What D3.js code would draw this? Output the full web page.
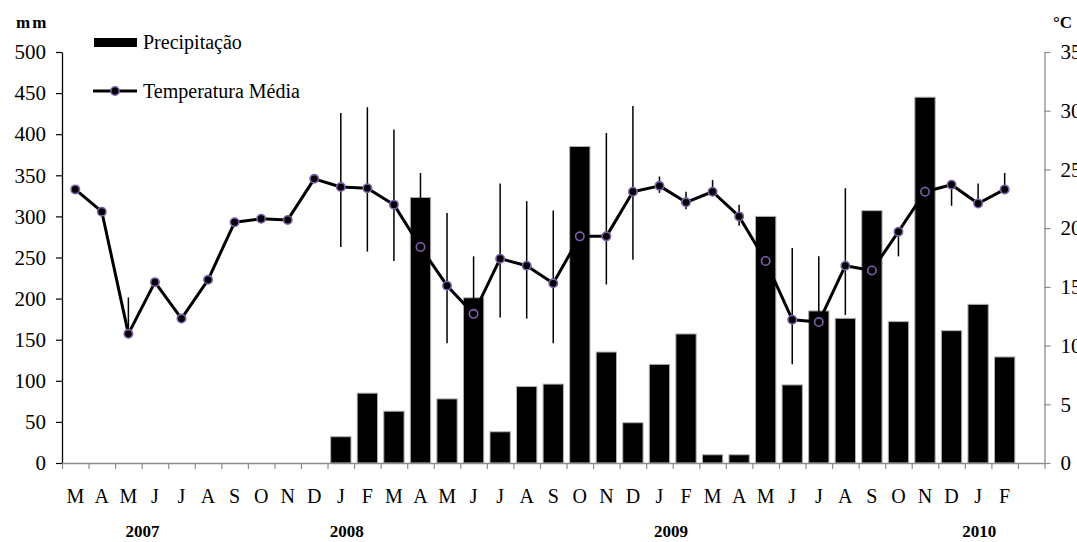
<!DOCTYPE html>
<html>
<head>
<meta charset="utf-8">
<script src="https://cdn.jsdelivr.net/npm/d3@7"></script>
<style>
  body { margin: 0; background: #fff; }
  svg { display: block; }
  text { font-family: "Liberation Serif", "Times New Roman", "DejaVu Serif", serif; fill: #000; }
</style>
</head>
<body>
<svg id="chart" width="1077" height="542"></svg>
<script>
// Monthly series, March 2007 to February 2010
const monthLabels = ["M","A","M","J","J","A","S","O","N","D",
                     "J","F","M","A","M","J","J","A","S","O","N","D",
                     "J","F","M","A","M","J","J","A","S","O","N","D",
                     "J","F"];

// Rainfall (mm); no record before January 2008
const precipitation = [null,null,null,null,null,null,null,null,null,null,
                       32, 85, 63, 323, 78, 201, 38, 93, 96, 385, 135, 49,
                       120, 157, 10, 10, 300, 95, 185, 176, 307, 172, 445, 161,
                       193, 129];

// Mean temperature (°C)
const temperature = [23.3, 21.4, 11.0, 15.4, 12.3, 15.6, 20.5, 20.8, 20.7, 24.2,
                     23.5, 23.4, 22.0, 18.4, 15.1, 12.7, 17.4, 16.8, 15.3, 19.3, 19.3, 23.1,
                     23.6, 22.2, 23.1, 21.0, 17.2, 12.2, 12.0, 16.8, 16.4, 19.7, 23.1, 23.7,
                     22.1, 23.3];

// Temperature deviation above / below the mean (°C)
const tempErrUp = [0, 0, 3.1, 0, 0, 0, 0, 0, 0, 0.4,
                   6.3, 6.9, 6.4, 6.3, 6.2, 4.9, 6.4, 5.5, 6.2, 4.5, 8.8, 7.3,
                   0.8, 0.9, 1.0, 1.0, 2.0, 6.1, 5.6, 6.6, 3.0, 0, 2.0, 0,
                   1.7, 1.4];
const tempErrDown = [0.4, 0.3, 0.4, 0, 0.4, 0, 0, 0.3, 0.3, 0,
                     5.1, 5.4, 4.8, 6.3, 4.9, 4.9, 5.0, 4.5, 5.1, 4.5, 4.1, 5.8,
                     0.6, 0.6, 0.4, 0.8, 2.0, 3.8, 5.6, 4.2, 3.0, 2.1, 2.0, 1.8,
                     0, 0];

const precipTicks = [0, 50, 100, 150, 200, 250, 300, 350, 400, 450, 500];
const tempTicks = [0, 5, 10, 15, 20, 25, 30, 35];
const years = ["2007", "2008", "2009", "2010"];

// ---- layout ----
const svg = d3.select("#chart");
const plotLeft = 62, plotRight = 1044.5, plotTop = 52, plotBottom = 463;
const slots = monthLabels.length + 1;          // one empty slot after the last month
const pad = 0.235;

const x = d3.scaleBand()
  .domain(d3.range(slots))
  .range([plotLeft, plotRight])
  .paddingInner(pad)
  .paddingOuter(pad / 2);
const slot = d3.scaleLinear().domain([0, slots]).range([plotLeft, plotRight]);
const cx = i => x(i) + x.bandwidth() / 2;

const yL = d3.scaleLinear().domain([0, 500]).range([plotBottom, plotTop]);
const yR = d3.scaleLinear().domain([0, 35]).range([plotBottom, plotTop]);

const tickFont = 21;
const monthFont = 20;
const legendFont = 20;
const serif = '"Liberation Serif","Times New Roman","DejaVu Serif",serif';

// ---- axes ----
const gLeft = svg.append("g")
  .attr("transform", `translate(${plotLeft},0)`)
  .call(d3.axisLeft(yL).tickValues(precipTicks).tickSize(6).tickSizeOuter(0).tickPadding(10));
gLeft.attr("font-family", serif);
gLeft.select(".domain").attr("stroke", "#000").attr("stroke-width", 1.3);
gLeft.selectAll(".tick line").attr("stroke", "#000").attr("stroke-width", 1.2);
gLeft.selectAll(".tick text")
  .style("font-family", serif).style("font-size", tickFont + "px").attr("fill", "#000");

const gRight = svg.append("g")
  .attr("transform", `translate(${plotRight},0)`)
  .call(d3.axisRight(yR).tickValues(tempTicks).tickSize(6).tickSizeOuter(0).tickPadding(10));
gRight.attr("font-family", serif);
gRight.select(".domain").attr("stroke", "#8c8c8c").attr("stroke-width", 1.3);
gRight.selectAll(".tick line").attr("stroke", "#8c8c8c").attr("stroke-width", 1.2);
gRight.selectAll(".tick text")
  .style("font-family", serif).style("font-size", tickFont + "px").attr("fill", "#000");

// ---- bars ----
svg.append("g").selectAll("rect")
  .data(precipitation.map((v, i) => ({ v, i })).filter(d => d.v != null))
  .join("rect")
  .attr("x", d => x(d.i))
  .attr("width", x.bandwidth())
  .attr("y", d => yL(d.v))
  .attr("height", d => yL(0) - yL(d.v))
  .attr("fill", "#000")
  .attr("stroke", "#b0b0b0")
  .attr("stroke-width", 1);

// ---- x axis (tick marks between months) ----
const gBottom = svg.append("g")
  .attr("transform", `translate(0,${plotBottom})`)
  .call(d3.axisBottom(slot).tickValues(d3.range(slots + 1)).tickFormat("").tickSize(6).tickSizeOuter(0));
gBottom.select(".domain").attr("stroke", "#8c8c8c").attr("stroke-width", 1.3);
gBottom.selectAll(".tick line").attr("stroke", "#8c8c8c").attr("stroke-width", 1.2);

svg.append("g").selectAll("text")
  .data(monthLabels)
  .join("text")
  .attr("x", (d, i) => cx(i))
  .attr("y", 503)
  .attr("text-anchor", "middle")
  .style("font-family", serif)
  .style("font-size", monthFont + "px")
  .text(d => d);

// year captions, placed under the months they belong to
const yearSlot = [2.53, 10.22, 22.43, 34.04];
svg.append("g").selectAll("text")
  .data(years)
  .join("text")
  .attr("x", (d, i) => slot(yearSlot[i] + 0.5))
  .attr("y", 537)
  .attr("text-anchor", "middle")
  .style("font-family", serif)
  .style("font-size", "17px")
  .style("font-weight", "bold")
  .text(d => d);

// ---- temperature line, deviation whiskers and markers ----
const line = d3.line().x((d, i) => cx(i)).y(d => yR(d));
svg.append("path")
  .datum(temperature)
  .attr("d", line)
  .attr("fill", "none")
  .attr("stroke", "#000")
  .attr("stroke-width", 3)
  .attr("stroke-linejoin", "round");

svg.append("g").selectAll("line")
  .data(temperature.map((t, i) => ({ t, i, up: tempErrUp[i], dn: tempErrDown[i] })))
  .join("line")
  .attr("x1", d => cx(d.i)).attr("x2", d => cx(d.i))
  .attr("y1", d => yR(d.t + d.up))
  .attr("y2", d => yR(d.t - d.dn))
  .attr("stroke", "#000")
  .attr("stroke-width", 1.5);

const purple = "#7d60aa";
svg.append("g").selectAll("circle")
  .data(temperature)
  .join("circle")
  .attr("cx", (d, i) => cx(i))
  .attr("cy", d => yR(d))
  .attr("r", 4.2)
  .attr("fill", "#000")
  .attr("stroke", purple)
  .attr("stroke-width", 1.6);

// ---- axis units ----
svg.append("text").attr("x", 16).attr("y", 28)
  .style("font-family", serif).style("font-size", "17px").style("font-weight", "bold")
  .style("letter-spacing", "2px").text("mm");
svg.append("text").attr("x", 1053).attr("y", 28)
  .style("font-family", serif).style("font-size", "17px").style("font-weight", "bold").text("°C");

// ---- legend ----
const legend = svg.append("g");
legend.append("rect").attr("x", 94).attr("y", 38).attr("width", 43).attr("height", 9).attr("fill", "#000");
legend.append("text").attr("x", 143).attr("y", 49)
  .style("font-family", serif).style("font-size", legendFont + "px").text("Precipitação");
legend.append("line").attr("x1", 93).attr("x2", 137).attr("y1", 91).attr("y2", 91)
  .attr("stroke", "#000").attr("stroke-width", 3);
legend.append("circle").attr("cx", 115).attr("cy", 91).attr("r", 4.2)
  .attr("fill", "#000").attr("stroke", purple).attr("stroke-width", 1.6);
legend.append("text").attr("x", 143).attr("y", 98)
  .style("font-family", serif).style("font-size", legendFont + "px").text("Temperatura Média");
</script>
</body>
</html>
